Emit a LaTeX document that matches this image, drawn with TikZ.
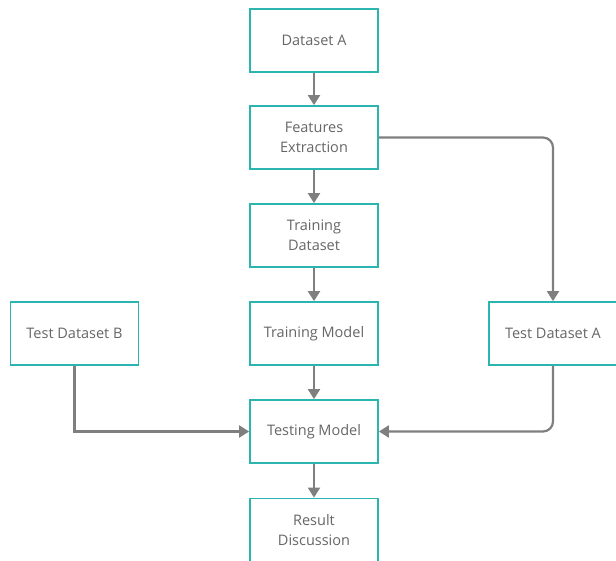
\documentclass[tikz,border=0pt]{standalone}
\usepackage{fontspec}
\setmainfont{Open Sans}
\usetikzlibrary{arrows.meta}
\definecolor{boxteal}{HTML}{2BB5B0}
\definecolor{linegray}{HTML}{7F7F7F}
\definecolor{textgray}{HTML}{666666}
\tikzset{
  stepbox/.style={draw=boxteal,line width=1.8pt,fill=white,minimum width=128pt,minimum height=63pt,
    align=center,text=textgray,font=\fontsize{14.5}{20}\selectfont},
  flow/.style={draw=linegray,line width=2.2pt,-{Triangle[length=10pt,width=12pt]}}
}
\begin{document}
\begin{tikzpicture}[x=1pt,y=-1pt]
      \useasboundingbox (0,0) rectangle (616,561);
      \node[stepbox] (dsa) at (314,40.5) {Dataset A};
      \node[stepbox] (feat) at (314,137.5) {Features\\Extraction};
      \node[stepbox] (train) at (314,235.5) {Training\\Dataset};
      \node[stepbox] (model) at (314,333.5) {Training Model};
      \node[stepbox] (test) at (314,431.5) {Testing Model};
      \node[stepbox] (result) at (314,530) {Result\\Discussion};
      \node[stepbox] (tdb) at (74.5,333.5) {Test Dataset B};
      \node[stepbox] (tda) at (553,333.5) {Test Dataset A};
      \draw[flow] (dsa) -- (feat);
      \draw[flow] (feat) -- (train);
      \draw[flow] (train) -- (model);
      \draw[flow] (model) -- (test);
      \draw[flow] (test) -- (result);
      \draw[flow,rounded corners=10pt] (feat.east) -| (tda.north);
      \draw[flow,rounded corners=10pt] (tda.south) |- (test.east);
      \draw[flow] (tdb.south) |- (test.west);
    \end{tikzpicture}
\end{document}
